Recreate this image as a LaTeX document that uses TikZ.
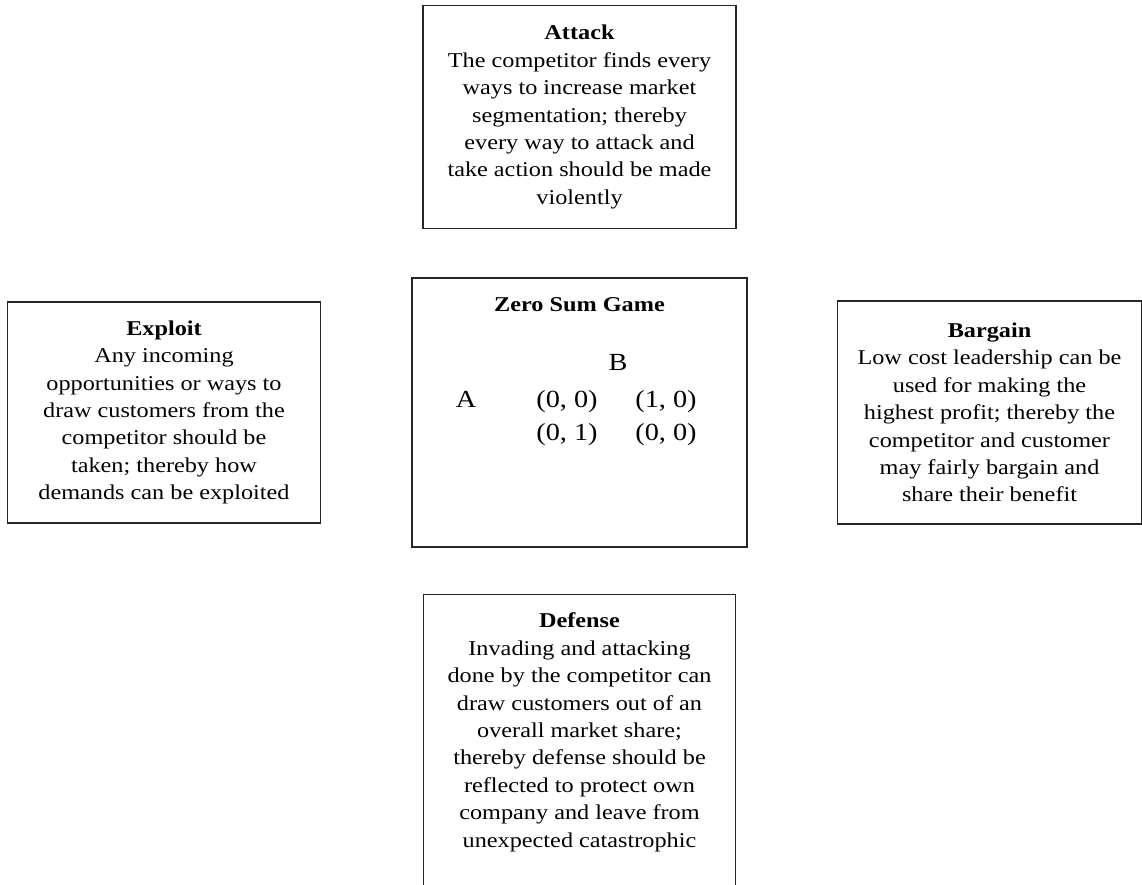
\documentclass[tikz,border=0pt]{standalone}
\usepackage{fontspec}
\setmainfont{Liberation Serif}[FakeStretch=1.15]
\usetikzlibrary{positioning}
\tikzset{
  box/.style={draw=black!85,line width=0.9pt,align=center,inner sep=0pt,font=\fontsize{12}{15.6}\selectfont},
  txt/.style={align=center,inner sep=0pt,font=\fontsize{12}{15.6}\selectfont},
  pay/.style={inner sep=0pt,anchor=base,font=\fontsize{14}{16}\selectfont}
}

\begin{document}
\begin{tikzpicture}[x=0.02cm,y=-0.02cm]
\useasboundingbox (0,0) rectangle (1142,885);
\clip (0,0) rectangle (1142,885);
\node[box, minimum width=6.7cm, minimum height=5.38cm] (zsg) at (579.5,412.5) {};
\node[box, minimum width=6.26cm, minimum height=4.46cm, above=9.6mm of zsg] (attack) {\textbf{Attack}\\The competitor finds every\\ways to increase market\\segmentation; thereby\\every way to attack and\\take action should be made\\violently};
\node[box, minimum width=6.26cm, minimum height=4.42cm, left=18mm of zsg] (exploit) {\textbf{Exploit}\\Any incoming\\opportunities or ways to\\draw customers from the\\competitor should be\\taken; thereby how\\demands can be exploited};
\node[box, minimum width=6.08cm, minimum height=4.46cm, right=17.8mm of zsg] (bargain) {\textbf{Bargain}\\Low cost leadership can be\\used for making the\\highest profit; thereby the\\competitor and customer\\may fairly bargain and\\share their benefit};
\node[box, minimum width=6.24cm, minimum height=6.6cm, below=9.2mm of zsg] (defbox) {};
\node[txt, below=3.8mm of defbox.north] (defense) {\textbf{Defense}\\Invading and attacking\\done by the competitor can\\draw customers out of an\\overall market share;\\thereby defense should be\\reflected to protect own\\company and leave from\\unexpected catastrophic};
% zero sum game payoffs
\node[txt, anchor=base] (zsgtitle) at (579.5,311) {\textbf{Zero Sum Game}};
\node[pay] (playerB) at (618,370) {B};
\node[pay] (playerA) at (466,407) {A};
\node[pay] (p11) at (567,407) {(0, 0)};
\node[pay] (p12) at (666,407) {(1, 0)};
\node[pay] (p21) at (567,440) {(0, 1)};
\node[pay] (p22) at (666,440) {(0, 0)};
\end{tikzpicture}
\end{document}
